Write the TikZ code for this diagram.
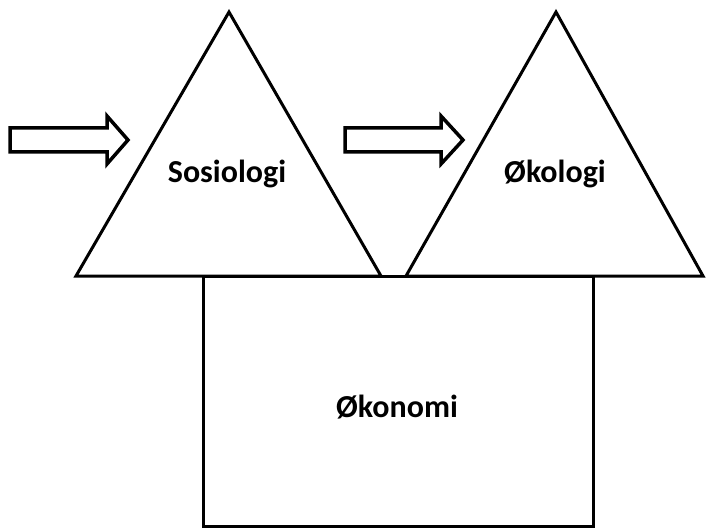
\documentclass[tikz,border=0pt]{standalone}
\usepackage{fontspec}
\setmainfont{Carlito}
\begin{document}
\begin{tikzpicture}[x=1pt,y=-1pt,
  shapeline/.style={draw=black,line width=3pt,line join=miter},
  label/.style={font=\bfseries\fontsize{32}{36}\selectfont,anchor=base,inner sep=0pt},
  blockarrow/.style={draw=black,line width=3.5pt,fill=white,line join=miter}]
\useasboundingbox (0,0) rectangle (706,529);
% base rectangle
\draw[shapeline] (203,276) rectangle (593,526);
% two triangles standing on the rectangle
\draw[shapeline] (76,276) -- (229,12) -- (381,276) -- cycle;
\draw[shapeline] (406,276) -- (556,12) -- (703,276) -- cycle;
\draw[shapeline] (381,276) -- (406,276);
% labels
\node[label] (soc) at (227,183) {Sosiologi};
\node[label] (eco) at (555,183) {Økologi};
\node[label] (eon) at (397,417) {Økonomi};
% block arrows
\draw[blockarrow] (10,128) -- (107,128) -- (107,116) -- (128,140) -- (107,164) -- (107,152) -- (10,152) -- cycle;
\draw[blockarrow] (345,128) -- (441,128) -- (441,116) -- (463,140) -- (441,164) -- (441,152) -- (345,152) -- cycle;
\end{tikzpicture}
\end{document}
